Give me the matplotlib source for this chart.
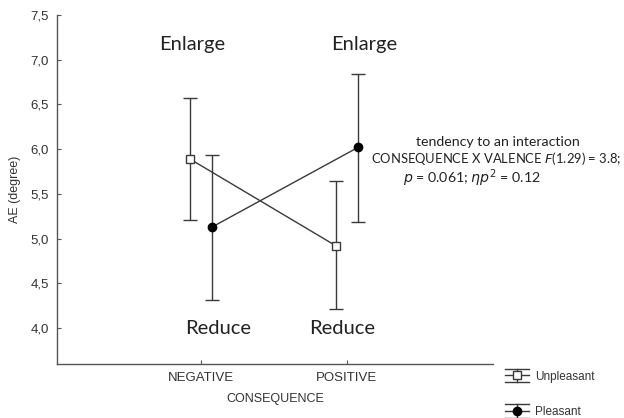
import matplotlib
matplotlib.use("Agg")
import matplotlib.pyplot as plt
from matplotlib.legend_handler import HandlerBase
from matplotlib.lines import Line2D
import numpy as np

categories = ["NEGATIVE", "POSITIVE"]
unpleasant_mean = [5.89, 4.92]
unpleasant_low = [5.21, 4.22]
unpleasant_high = [6.57, 5.64]
pleasant_mean = [5.13, 6.02]
pleasant_low = [4.32, 5.19]
pleasant_high = [5.93, 6.84]
yticks = [4.0, 4.5, 5.0, 5.5, 6.0, 6.5, 7.0, 7.5]
ytick_labels = ["4,0", "4,5", "5,0", "5,5", "6,0", "6,5", "7,0", "7,5"]

plt.rcParams['font.family'] = ['Liberation Sans', 'DejaVu Sans']
fig = plt.figure(figsize=(6.24, 4.18), dpi=100)
ax = fig.add_axes([57/624, 1-364/418, (493-57)/624, (364-15)/418])

x = np.arange(len(categories))
off = 0.075
lc = '#3a3a3a'
um = np.array(unpleasant_mean); pm = np.array(pleasant_mean)
e_u = ax.errorbar(x - off, um, yerr=[um - np.array(unpleasant_low), np.array(unpleasant_high) - um],
                  fmt='s', mfc='white', mec=lc, ms=6, color=lc, ecolor=lc, elinewidth=1.0,
                  capsize=5, capthick=1.0, ls='-', lw=1.0, label='Unpleasant', zorder=3)
e_p = ax.errorbar(x + off, pm, yerr=[pm - np.array(pleasant_low), np.array(pleasant_high) - pm],
                  fmt='o', mfc='black', mec='black', ms=6, color=lc, ecolor=lc, elinewidth=1.0,
                  capsize=5, capthick=1.0, ls='-', lw=1.0, label='Pleasant', zorder=3)

ax.set_xlim(-0.986, 2.0)
ax.set_ylim(3.6, 7.5)
ax.set_xticks(x)
ax.set_xticklabels(categories)
ax.set_yticks(yticks)
ax.set_yticklabels(ytick_labels)
for s in ['top', 'right']:
    ax.spines[s].set_visible(False)
for s in ['left', 'bottom']:
    ax.spines[s].set_color('#555555')
    ax.spines[s].set_linewidth(1.0)
ax.tick_params(direction='in', length=3, color='#555555', labelsize=9.5, labelcolor='#333333', pad=6)
ax.set_xlabel('CONSEQUENCE', fontsize=9, color='#333333', labelpad=6)
ax.set_ylabel('AE (degree)', fontsize=9, color='#333333', labelpad=7)

cal = ['Lato', 'DejaVu Sans']
for xx, lab in [(x[0] - 0.06, 'Enlarge'), (x[1] + 0.12, 'Enlarge')]:
    ax.text(xx, 7.17, lab, ha='center', va='center', fontsize=14.5, family=cal, color='#222222')
for xx, lab in [(x[0] + 0.12, 'Reduce'), (x[1] - 0.03, 'Reduce')]:
    ax.text(xx, 4.0, lab, ha='center', va='center', fontsize=14.5, family=cal, color='#222222')

fig.text(498/624, 1-142/418, 'tendency to an interaction', ha='center', va='center',
         fontsize=10.2, family=cal, color='#222222')
fig.text(621/624, 1-159/418, 'CONSEQUENCE X VALENCE $\\it{F}$(1.29) = 3.8;', ha='right', va='center',
         fontsize=9.4, family=cal, color='#222222')
fig.text(472/624, 1-178/418, '$\\it{p}$ = 0.061; $\\it{\\eta p}^2$ = 0.12', ha='center', va='center',
         fontsize=10.2, family=cal, color='#222222')


class ErrGlyph(HandlerBase):
    def create_artists(self, legend, orig_handle, xdescent, ydescent, width, height, fontsize, trans):
        line = orig_handle.lines[0]
        cy = height / 2 - ydescent
        h = 5.0
        arts = [
            Line2D([-xdescent, width - xdescent], [cy, cy], color=lc, lw=1.0),
            Line2D([-xdescent, width - xdescent], [cy + h, cy + h], color=lc, lw=1.0),
            Line2D([-xdescent, width - xdescent], [cy - h, cy - h], color=lc, lw=1.0),
            Line2D([width / 2 - xdescent] * 2, [cy - h, cy + h], color=lc, lw=1.0),
            Line2D([width / 2 - xdescent], [cy], marker=line.get_marker(), ms=6,
                   mfc=line.get_markerfacecolor(), mec=line.get_markeredgecolor(), ls='none'),
        ]
        for a in arts:
            a.set_transform(trans)
        return arts


leg = fig.legend(handles=[e_u, e_p], loc='upper left', bbox_to_anchor=(494/624, 1-360/418),
                 frameon=False, fontsize=8.5, labelspacing=2.0, handlelength=2.1, handletextpad=0.5,
                 handler_map={type(e_u): ErrGlyph()})
for t in leg.get_texts():
    t.set_color('#333333')

fig.savefig('out.png', dpi=100)
